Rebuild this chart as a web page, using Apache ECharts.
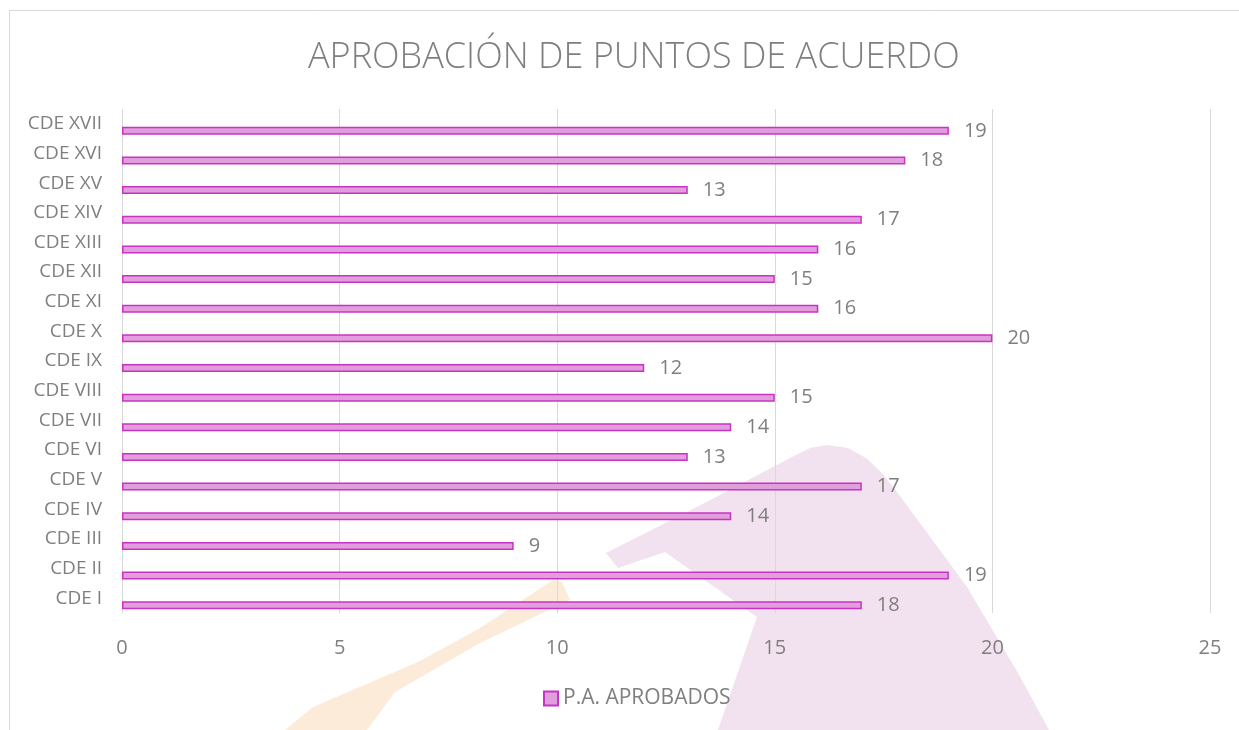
<!DOCTYPE html>
<html>
<head>
<meta charset="utf-8">
<script src="https://cdn.jsdelivr.net/npm/echarts@6/dist/echarts.min.js"></script>
<style>
  html, body { margin: 0; padding: 0; background: #fff; }
  #chart { width: 1239px; height: 730px; }
</style>
</head>
<body>
<div id="chart"></div>
<script>
// datos (de abajo hacia arriba)
var categorias = ['CDE I', 'CDE II', 'CDE III', 'CDE IV', 'CDE V', 'CDE VI', 'CDE VII', 'CDE VIII', 'CDE IX',
  'CDE X', 'CDE XI', 'CDE XII', 'CDE XIII', 'CDE XIV', 'CDE XV', 'CDE XVI', 'CDE XVII'];
var aprobados = [17, 19, 9, 14, 17, 13, 14, 15, 12, 20, 16, 15, 16, 17, 13, 18, 19];
// etiquetas tal como aparecen (CDE I dice 18)
var etiquetas = [18, 19, 9, 14, 17, 13, 14, 15, 12, 20, 16, 15, 16, 17, 13, 18, 19];
var ticksX = [0, 5, 10, 15, 20, 25];

var gris = '#7f7f7f';
var fuente = '"Open Sans", "Noto Sans", sans-serif';

var myChart = echarts.init(document.getElementById('chart'));
myChart.setOption({
  backgroundColor: '#fff',
  animation: false,
  textStyle: { fontFamily: fuente },
  title: {
    text: 'APROBACIÓN DE PUNTOS DE ACUERDO',
    left: 303,
    top: 35,
    textStyle: { color: gris, fontSize: 36, fontWeight: 300, fontFamily: fuente }
  },
  graphic: [
    // marco del grafico
    { type: 'line', z: -5, shape: { x1: 9, y1: 10.5, x2: 1239, y2: 10.5 }, style: { stroke: '#d9d9d9', lineWidth: 1 } },
    { type: 'line', z: -5, shape: { x1: 9.5, y1: 10, x2: 9.5, y2: 730 }, style: { stroke: '#d9d9d9', lineWidth: 1 } },
    // marca de agua de fondo
    { type: 'polygon', z: -10, silent: true,
      shape: { points: [[553, 580], [562, 582], [570, 600], [480, 643], [395, 692], [367, 730], [285, 730],
        [313, 707], [420, 661], [480, 628]] },
      style: { fill: '#fdebd9' } },
    { type: 'polygon', z: -10, silent: true,
      shape: { points: [[606, 553], [697, 507], [790, 458], [810, 448], [827, 445], [848, 448], [866, 458],
        [882, 473], [897, 492], [967, 587], [1018, 673], [1049, 730], [718, 730], [757, 617], [665, 552],
        [618, 568]] },
      style: { fill: '#f2e1ee' } }
  ],
  legend: {
    data: ['P.A. APROBADOS'],
    bottom: 16,
    left: 538,
    icon: 'rect',
    itemWidth: 14,
    itemHeight: 14,
    itemGap: 5,
    textStyle: { color: gris, fontSize: 21, fontFamily: fuente, padding: [0, 0, 0, 0] }
  },
  grid: { left: 122, right: 29, top: 109, bottom: 117, containLabel: false },
  xAxis: {
    type: 'value',
    min: ticksX[0],
    max: ticksX[ticksX.length - 1],
    interval: 5,
    axisLine: { show: false },
    axisTick: { show: false },
    splitLine: { show: true, lineStyle: { color: '#d9d9d9', width: 1 } },
    axisLabel: { color: gris, fontSize: 20, margin: 25, fontFamily: fuente }
  },
  yAxis: {
    type: 'category',
    data: categorias,
    axisLine: { show: false },
    axisTick: { show: false },
    axisLabel: { color: gris, fontSize: 19, margin: 20, fontFamily: fuente }
  },
  series: [
    {
      name: 'vacio',
      type: 'bar',
      data: aprobados.map(function () { return null; }),
      barWidth: 8,
      barGap: '75%',
      silent: true
    },
    {
      name: 'P.A. APROBADOS',
      type: 'bar',
      data: aprobados,
      barWidth: 8,
      barGap: '75%',
      itemStyle: { color: '#e29ddd', borderColor: '#c734c4', borderWidth: 1.5 },
      label: {
        show: true,
        position: 'right',
        distance: 15,
        color: gris,
        fontSize: 20,
        fontFamily: fuente,
        formatter: function (params) {
          return etiquetas[params.dataIndex];
        }
      }
    }
  ]
});
</script>
</body>
</html>
